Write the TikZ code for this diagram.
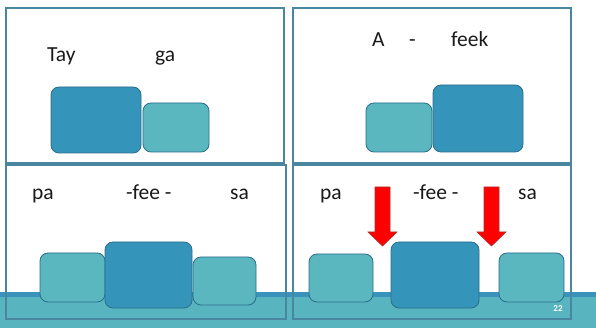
\documentclass[tikz,border=0pt]{standalone}
\usepackage{fontspec}
\setmainfont{Carlito}
\definecolor{darkbox}{HTML}{3594B9}
\definecolor{lightbox}{HTML}{5AB6BF}
\definecolor{boxedge}{HTML}{2A6E8C}
\definecolor{frame}{HTML}{4A86A0}
\definecolor{band}{HTML}{58B5BF}
\definecolor{stripe}{HTML}{3A93BA}
\definecolor{arrowred}{HTML}{FF0000}
\definecolor{arrowedge}{HTML}{B03030}
\definecolor{txt}{HTML}{1A1A1A}
\tikzset{
  panel/.style={draw=frame, line width=1.1pt},
  syl/.style={rounded corners=8pt, draw=boxedge, line width=0.8pt, inner sep=0pt},
  big/.style={syl, fill=darkbox},
  small/.style={syl, fill=lightbox},
  word/.style={anchor=base west, inner sep=0pt, font=\fontsize{21.5}{25}\selectfont, text=txt},
  redarrow/.style={fill=arrowred, draw=arrowedge, line width=0.6pt, line join=miter}
}
\begin{document}
\begin{tikzpicture}[x=1pt, y=-1pt]
\useasboundingbox (0,0) rectangle (596,328);
\fill[white] (0,0) rectangle (596,328);
% bottom band
\fill[band] (0,292) rectangle (596,328);
\fill[stripe] (0,292) rectangle (596,297);
% panels
\draw[panel] (6,8) rectangle (284,163);
\draw[panel] (293,8) rectangle (571,163);
\draw[panel] (6,165) rectangle (286,319);
\draw[panel] (293,165) rectangle (571,319);
% top left
\node[word] (tay) at (47,62) {Tay};
\node[word] (ga) at (155,62) {ga};
\node[big, minimum width=90pt, minimum height=66pt] (tl1) at (96,120) {};
\node[small, minimum width=66pt, minimum height=49pt] (tl2) at (176,127.5) {};
% top right
\node[word] (a) at (372,47) {A};
\node[word] (dash) at (409,47) {-};
\node[word] (feek) at (451,47) {feek};
\node[small, minimum width=66pt, minimum height=49pt] (tr1) at (399,127.5) {};
\node[big, minimum width=90pt, minimum height=67pt] (tr2) at (478,118.5) {};
% bottom left
\node[word] (pa1) at (32,200) {pa};
\node[word] (fee1) at (126,200) {-fee -};
\node[word] (sa1) at (230,200) {sa};
\node[small, minimum width=65pt, minimum height=49pt] (bl1) at (72.5,277.5) {};
\node[big, minimum width=87pt, minimum height=66pt] (bl2) at (148.5,275) {};
\node[small, minimum width=63pt, minimum height=48pt] (bl3) at (224.5,281) {};
% bottom right
\node[word] (pa2) at (320,200) {pa};
\node[word] (fee2) at (413,200) {-fee -};
\node[word] (sa2) at (518,200) {sa};
\node[small, minimum width=64pt, minimum height=48pt] (br1) at (341,278) {};
\node[big, minimum width=88pt, minimum height=66pt] (br2) at (435,275) {};
\node[small, minimum width=65pt, minimum height=49pt] (br3) at (531.5,277.5) {};
% red arrows
\draw[redarrow] (375,187) -- (390,187) -- (390,232) -- (397,232) -- (382.5,246) -- (368,232) -- (375,232) -- cycle;
\draw[redarrow] (484,187) -- (499,187) -- (499,232) -- (506,232) -- (491.5,246) -- (477,232) -- (484,232) -- cycle;
% slide number
\node[anchor=base, inner sep=0pt, text=white, font=\fontsize{9}{10}\selectfont\bfseries] (num) at (558,311) {22};
\end{tikzpicture}
\end{document}
